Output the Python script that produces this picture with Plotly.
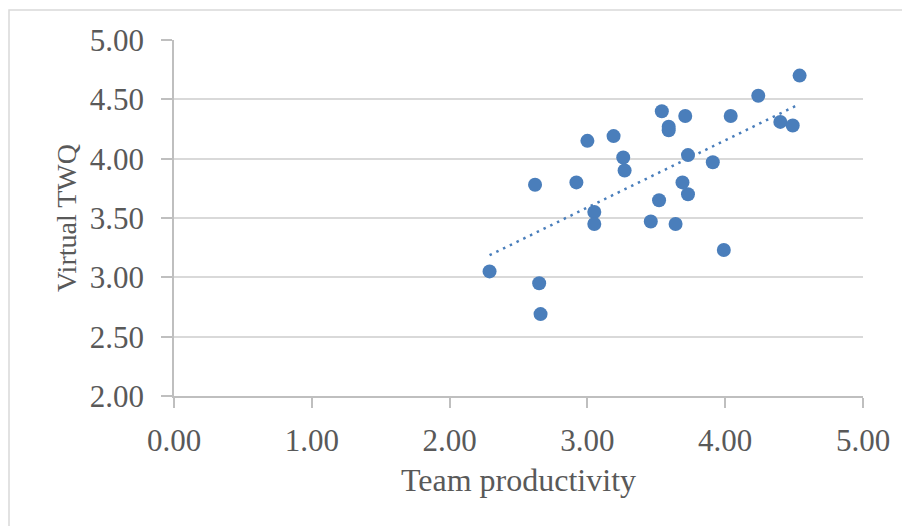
import numpy as np
import plotly.graph_objects as go

team_productivity = [2.29, 2.62, 2.65, 2.66, 2.92, 3.00, 3.05, 3.05, 3.19, 3.26,
                     3.27, 3.46, 3.52, 3.54, 3.59, 3.59, 3.64, 3.69, 3.71, 3.73,
                     3.73, 3.91, 3.99, 4.04, 4.24, 4.40, 4.49, 4.54]
virtual_twq = [3.05, 3.78, 2.95, 2.69, 3.80, 4.15, 3.55, 3.45, 4.19, 4.01,
               3.90, 3.47, 3.65, 4.40, 4.27, 4.24, 3.45, 3.80, 4.36, 4.03,
               3.70, 3.97, 3.23, 4.36, 4.53, 4.31, 4.28, 4.70]

x_ticks = [0, 1, 2, 3, 4, 5]
y_ticks = [2.0, 2.5, 3.0, 3.5, 4.0, 4.5, 5.0]

blue = "#4A7EBB"
font_family = "Liberation Serif, Times New Roman, serif"

slope, intercept = np.polyfit(team_productivity, virtual_twq, 1)
tx = [min(team_productivity), max(team_productivity)]
ty = [slope * v + intercept for v in tx]

# page body has an 8px margin, so the figure is sized and placed to compensate
W, H = 902, 518
L, T = 166, 32
PW, PH = 689, 356

fig = go.Figure()
fig.add_trace(go.Scatter(x=tx, y=ty, mode="lines",
                         line=dict(color=blue, width=2.5, dash="2.5px,5px"),
                         hoverinfo="skip", showlegend=False))
fig.add_trace(go.Scatter(x=team_productivity, y=virtual_twq, mode="markers",
                         marker=dict(color=blue, size=14, line=dict(width=0)),
                         showlegend=False))

fig.update_layout(
    width=W, height=H,
    margin=dict(l=L, r=W - L - PW, t=T, b=H - T - PH),
    paper_bgcolor="white", plot_bgcolor="white",
    font=dict(family=font_family, color="#595959", size=31),
    showlegend=False,
    shapes=[dict(type="rect", xref="paper", yref="paper",
                 x0=(1 - L) / PW, x1=(898 - L) / PW, y0=-0.6, y1=(PH + T - 2) / PH,
                 line=dict(color="#d9d9d9", width=1.5), layer="below")],
)
fig.update_xaxes(range=[0, 5], tickvals=x_ticks, tickformat=".2f",
                 showgrid=False, zeroline=False,
                 showline=True, linecolor="#bfbfbf", linewidth=1.5,
                 ticks="outside", ticklen=10, tickcolor="#bfbfbf", tickwidth=1.5,
                 ticklabelstandoff=6,
                 title=dict(text="Team productivity", font=dict(size=32, color="#595959"), standoff=12))
fig.update_yaxes(range=[2, 5], tickvals=y_ticks, tickformat=".2f",
                 showgrid=True, gridcolor="#d9d9d9", gridwidth=1.5, zeroline=False,
                 showline=True, linecolor="#bfbfbf", linewidth=1.5,
                 ticks="outside", ticklen=11, tickcolor="#bfbfbf", tickwidth=1.5,
                 ticklabelstandoff=11,
                 title=dict(text="Virtual TWQ", font=dict(size=28, color="#595959"), standoff=5))

fig.write_html("out.html")
